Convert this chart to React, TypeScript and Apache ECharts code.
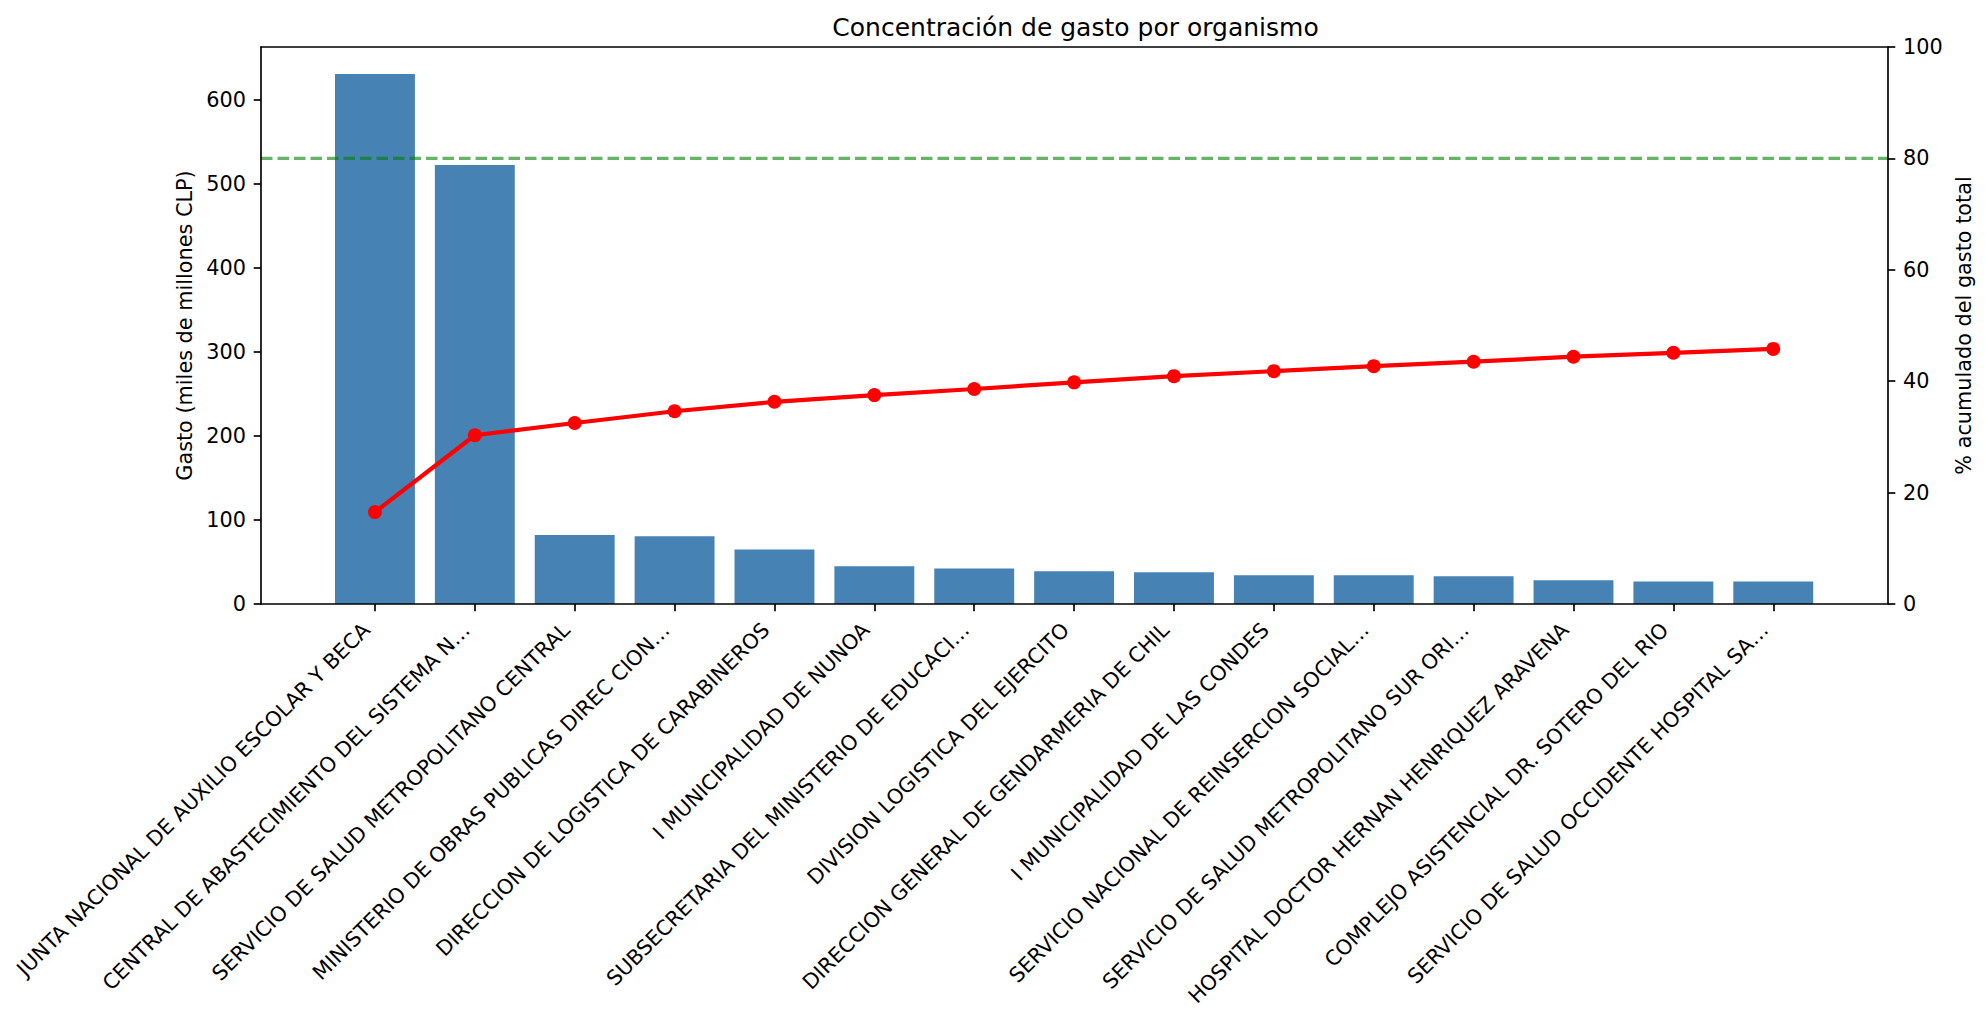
import React, { useEffect, useRef } from "react";
import * as echarts from "echarts";

const TITLE = "Concentración de gasto por organismo";
const LEFT_AXIS_NAME = "Gasto (miles de millones CLP)";
const RIGHT_AXIS_NAME = "% acumulado del gasto total";

const categories = [
  "JUNTA NACIONAL DE AUXILIO ESCOLAR Y BECA",
  "CENTRAL DE ABASTECIMIENTO DEL SISTEMA N…",
  "SERVICIO DE SALUD METROPOLITANO CENTRAL",
  "MINISTERIO DE OBRAS PUBLICAS DIREC CION…",
  "DIRECCION DE LOGISTICA DE CARABINEROS",
  "I MUNICIPALIDAD DE NUNOA",
  "SUBSECRETARIA DEL MINISTERIO DE EDUCACI…",
  "DIVISION LOGISTICA DEL EJERCITO",
  "DIRECCION GENERAL DE GENDARMERIA DE CHIL",
  "I MUNICIPALIDAD DE LAS CONDES",
  "SERVICIO NACIONAL DE REINSERCION SOCIAL…",
  "SERVICIO DE SALUD METROPOLITANO SUR ORI…",
  "HOSPITAL DOCTOR HERNAN HENRIQUEZ ARAVENA",
  "COMPLEJO ASISTENCIAL DR. SOTERO DEL RIO",
  "SERVICIO DE SALUD OCCIDENTE HOSPITAL SA…",
];

const gasto = [631, 522.5, 82, 80.5, 65, 44.8, 42.4, 39, 37.8, 34.3, 34.2, 33, 28.2, 26.9, 26.9];

const pctAcumulado = [16.5, 30.3, 32.5, 34.6, 36.3, 37.5, 38.6, 39.8, 40.9, 41.8, 42.7, 43.5, 44.4, 45.1, 45.8];

const leftTicks = [0, 100, 200, 300, 400, 500, 600];
const LEFT_MAX = 663;
const rightTicks = [0, 20, 40, 60, 80, 100];
const THRESHOLD = 80;

const FONT = "DejaVu Sans";
const TICK_FS = 20.8;

export default function App() {
  const ref = useRef<HTMLDivElement>(null);

  useEffect(() => {
    if (!ref.current) return;
    const chart = echarts.init(ref.current, undefined, { renderer: "svg" });

    const frameLeft = 261;
    const frameRight = 1888;
    const top = 47;
    const bottom = 604;
    const band = 99.88;
    const innerLeft = 325;
    const innerWidth = band * categories.length;
    const innerRight = innerLeft + innerWidth;

    const axisLineStyle = { color: "#000", width: 1.67 };
    const frameAxisCommon = {
      gridIndex: 0,
      type: "value" as const,
      z: 10,
      axisLine: { show: true, onZero: false, lineStyle: axisLineStyle },
      axisTick: { show: false },
      axisLabel: { show: false },
      splitLine: { show: false },
    };

    const option: any = {
      animation: false,
      backgroundColor: "#fff",
      title: {
        text: TITLE,
        left: (frameLeft + frameRight) / 2 - 4,
        textAlign: "center",
        top: 10,
        textStyle: { fontFamily: FONT, fontSize: 25, fontWeight: "normal", color: "#000" },
      },
      grid: [
        { left: frameLeft, top, width: frameRight - frameLeft, height: bottom - top },
        { left: innerLeft, top, width: innerWidth, height: bottom - top },
      ],
      xAxis: [
        { ...frameAxisCommon, min: 0, max: 1, position: "bottom" },
        { ...frameAxisCommon, min: 0, max: 1, position: "top" },
        {
          gridIndex: 1,
          type: "category",
          data: categories,
          boundaryGap: true,
          axisLine: { show: false },
          axisTick: {
            show: true,
            alignWithLabel: true,
            length: 7.3,
            lineStyle: { color: "#000", width: 1.67 },
          },
          axisLabel: {
            interval: 0,
            rotate: 45,
            margin: 14,
            padding: [0, 12, 0, 0],
            fontFamily: FONT,
            fontSize: TICK_FS,
            color: "#000",
          },
          splitLine: { show: false },
        },
      ],
      yAxis: [
        { ...frameAxisCommon, min: 0, max: 100, position: "left" },
        { ...frameAxisCommon, min: 0, max: 100, position: "right" },
        {
          gridIndex: 1,
          type: "value",
          position: "left",
          offset: innerLeft - frameLeft,
          min: 0,
          max: LEFT_MAX,
          interval: 100,
          name: LEFT_AXIS_NAME,
          nameLocation: "middle",
          nameGap: 61,
          nameTextStyle: { fontFamily: FONT, fontSize: TICK_FS, color: "#000" },
          axisLine: { show: false },
          axisTick: {
            show: true,
            length: 7.3,
            customValues: leftTicks,
            lineStyle: { color: "#000", width: 1.67 },
          },
          axisLabel: {
            margin: 15,
            customValues: leftTicks,
            fontFamily: FONT,
            fontSize: TICK_FS,
            color: "#000",
          },
          splitLine: { show: false },
        },
        {
          gridIndex: 1,
          type: "value",
          position: "right",
          offset: frameRight - innerRight,
          min: 0,
          max: 100,
          interval: 20,
          name: RIGHT_AXIS_NAME,
          nameLocation: "middle",
          nameGap: 60,
          nameTextStyle: { fontFamily: FONT, fontSize: TICK_FS, color: "#000" },
          axisLine: { show: false },
          axisTick: {
            show: true,
            length: 7.3,
            customValues: rightTicks,
            lineStyle: { color: "#000", width: 1.67 },
          },
          axisLabel: {
            margin: 15,
            customValues: rightTicks,
            fontFamily: FONT,
            fontSize: TICK_FS,
            color: "#000",
          },
          splitLine: { show: false },
        },
      ],
      series: [
        {
          type: "bar",
          xAxisIndex: 2,
          yAxisIndex: 2,
          data: gasto,
          barWidth: band * 0.8,
          itemStyle: { color: "#4682b4" },
          z: 2,
        },
        {
          type: "line",
          xAxisIndex: 0,
          yAxisIndex: 0,
          data: [
            [0, THRESHOLD],
            [1, THRESHOLD],
          ],
          symbol: "none",
          lineStyle: { color: "#008000", opacity: 0.6, width: 3.1, type: [11.5, 5] },
          z: 3,
          silent: true,
        },
        {
          type: "line",
          xAxisIndex: 2,
          yAxisIndex: 3,
          data: pctAcumulado,
          symbol: "circle",
          symbolSize: 14,
          lineStyle: { color: "#ff0000", width: 4.2 },
          itemStyle: { color: "#ff0000" },
          z: 4,
        },
      ],
    };

    chart.setOption(option);
    return () => chart.dispose();
  }, []);

  return (
    <div
      ref={ref}
      style={{ position: "fixed", left: 0, top: 0, width: 1985, height: 1020, background: "#fff" }}
    />
  );
}
